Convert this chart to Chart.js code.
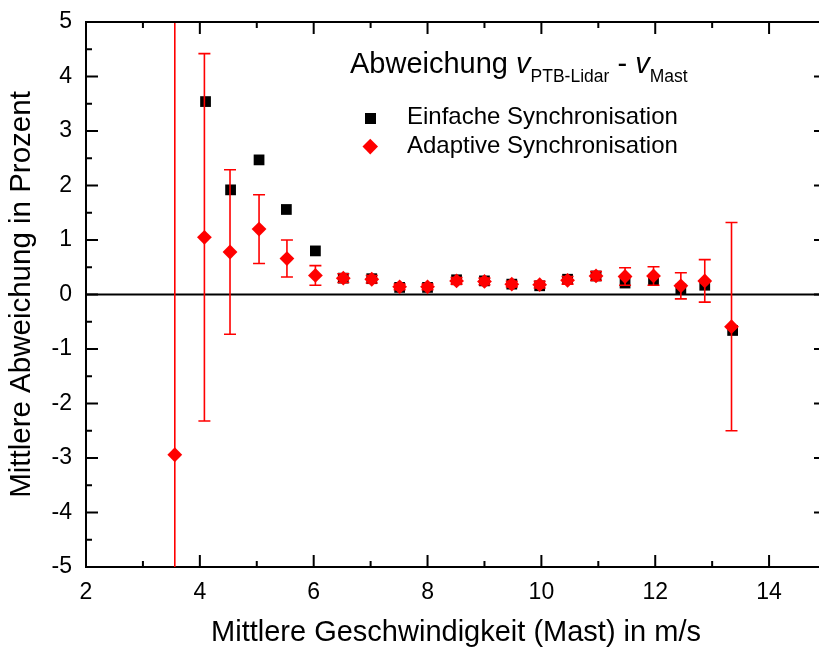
<!DOCTYPE html>
<html><head><meta charset="utf-8">
<script src="https://cdn.jsdelivr.net/npm/chart.js@4"></script>
<style>
html,body{margin:0;padding:0;background:#fff;overflow:hidden;}
#wrap{position:relative;width:840px;height:647px;}
#c{position:absolute;left:0;top:0;width:840px;height:647px;}
.t{position:absolute;font-family:"Liberation Sans",Arial,sans-serif;white-space:nowrap;line-height:1;color:#000;}
.sub{font-size:17.5px;position:relative;top:9px;}
.mk{position:absolute;}
</style></head><body>
<div id="wrap">
<canvas id="c" width="840" height="647"></canvas>
<div class="t" style="left:350px;top:49px;font-size:29px;">Abweichung <i>v</i><span class="sub">PTB-Lidar</span> - <i>v</i><span class="sub">Mast</span></div>
<div class="mk" style="left:365px;top:113px;width:11px;height:11px;background:#000;"></div>
<div class="mk" style="left:365px;top:141px;width:10.5px;height:10.5px;background:#f00;transform:rotate(45deg);"></div>
<div class="t" style="left:407px;top:104px;font-size:24px;">Einfache Synchronisation</div>
<div class="t" style="left:407px;top:133px;font-size:24px;">Adaptive Synchronisation</div>
</div>
<script>
// ---- data ----
const speedAdaptive = [3.56, 4.08, 4.53, 5.04, 5.53, 6.03, 6.52, 7.02, 7.51, 8.00, 8.51, 9.00, 9.48, 9.97, 10.46, 10.96, 11.47, 11.97, 12.45, 12.87, 13.34];
const devAdaptive   = [-2.94, 1.05, 0.78, 1.20, 0.66, 0.35, 0.30, 0.28, 0.14, 0.14, 0.25, 0.24, 0.19, 0.18, 0.26, 0.34, 0.33, 0.34, 0.16, 0.25, -0.59];
const errAdaptive   = [8.5, 3.37, 1.51, 0.63, 0.34, 0.18, 0.08, 0.07, 0.05, 0.05, 0.06, 0.06, 0.05, 0.06, 0.07, 0.08, 0.16, 0.17, 0.24, 0.39, 1.91];
const speedSimple   = [4.10, 4.54, 5.04, 5.52, 6.03, 6.52, 7.02, 7.51, 8.00, 8.51, 9.00, 9.48, 9.97, 10.46, 10.96, 11.47, 11.97, 12.45, 12.87, 13.36];
const devSimple     = [3.54, 1.92, 2.47, 1.56, 0.80, 0.30, 0.29, 0.13, 0.13, 0.27, 0.25, 0.19, 0.16, 0.28, 0.34, 0.21, 0.27, 0.10, 0.17, -0.66];
const xTickValues = [2, 4, 6, 8, 10, 12, 14];
const xMinorValues = [3, 5, 7, 9, 11, 13];
const yTickValues = [-5, -4, -3, -2, -1, 0, 1, 2, 3, 4, 5];
const yMinorValues = [-4.5, -3.5, -2.5, -1.5, -0.5, 0.5, 1.5, 2.5, 3.5, 4.5];
const xTitle = 'Mittlere Geschwindigkeit (Mast) in m/s';
const yTitle = 'Mittlere Abweichung in Prozent';

const FONT = '"Liberation Sans", Arial, sans-serif';

const errorBars = {
  id: 'errorBars',
  beforeDatasetDraw(chart, args) {
    if (args.index !== 1) return;
    const {ctx, chartArea: a, scales: {x, y}} = chart;
    ctx.save();
    ctx.beginPath();
    ctx.rect(a.left, a.top, a.right - a.left, a.bottom - a.top);
    ctx.clip();
    ctx.strokeStyle = '#ff0000';
    ctx.lineWidth = 1.6;
    speedAdaptive.forEach((sx, i) => {
      const px = x.getPixelForValue(sx);
      const top = y.getPixelForValue(devAdaptive[i] + errAdaptive[i]);
      const bot = y.getPixelForValue(devAdaptive[i] - errAdaptive[i]);
      ctx.beginPath();
      ctx.moveTo(px, top); ctx.lineTo(px, bot);
      ctx.moveTo(px - 6, top); ctx.lineTo(px + 6, top);
      ctx.moveTo(px - 6, bot); ctx.lineTo(px + 6, bot);
      ctx.stroke();
    });
    ctx.restore();
  }
};

const frame = {
  id: 'frame',
  beforeDatasetsDraw(chart) {
    const {ctx, chartArea: a, scales: {y}} = chart;
    ctx.save();
    ctx.strokeStyle = '#000';
    ctx.lineWidth = 2.2;
    const y0 = y.getPixelForValue(0);
    ctx.beginPath(); ctx.moveTo(a.left, y0); ctx.lineTo(a.right, y0); ctx.stroke();
    ctx.restore();
  },
  afterDraw(chart) {
    const {ctx, chartArea: a, scales: {x, y}} = chart;
    ctx.save();
    ctx.strokeStyle = '#000';
    ctx.lineWidth = 2;
    ctx.beginPath();
    ctx.moveTo(a.left, a.top); ctx.lineTo(a.right, a.top);
    ctx.moveTo(a.right, a.top); ctx.lineTo(a.right, a.bottom);
    ctx.stroke();
    const tick = (vals, len) => {
      ctx.beginPath();
      vals.forEach(v => {
        const px = x.getPixelForValue(v);
        ctx.moveTo(px, a.bottom); ctx.lineTo(px, a.bottom - len);
        ctx.moveTo(px, a.top); ctx.lineTo(px, a.top + len);
      });
      ctx.stroke();
    };
    const ytick = (vals, len) => {
      ctx.beginPath();
      vals.forEach(v => {
        const py = y.getPixelForValue(v);
        ctx.moveTo(a.left, py); ctx.lineTo(a.left + len, py);
        ctx.moveTo(a.right, py); ctx.lineTo(a.right - len, py);
      });
      ctx.stroke();
    };
    tick(xTickValues, 12); tick(xMinorValues, 6);
    ytick(yTickValues, 12); ytick(yMinorValues, 6);
    ctx.restore();
  }
};

new Chart(document.getElementById('c'), {
  type: 'scatter',
  data: {
    datasets: [
      {
        label: 'Einfache Synchronisation',
        data: speedSimple.map((v, i) => ({x: v, y: devSimple[i]})),
        pointStyle: 'rect', pointRadius: 7.6, pointHoverRadius: 7.6,
        backgroundColor: '#000', borderColor: '#000', borderWidth: 0, order: 2
      },
      {
        label: 'Adaptive Synchronisation',
        data: speedAdaptive.map((v, i) => ({x: v, y: devAdaptive[i]})),
        pointStyle: 'rectRot', pointRadius: 7.4, pointHoverRadius: 7.4,
        backgroundColor: '#ff0000', borderColor: '#ff0000', borderWidth: 0, order: 1
      }
    ]
  },
  options: {
    responsive: false, animation: false, devicePixelRatio: 1,
    layout: {padding: {top: 22, right: 14, left: 0, bottom: 0}},
    plugins: {legend: {display: false}, tooltip: {enabled: false}},
    scales: {
      x: {
        type: 'linear', min: 2, max: 15,
        afterFit(s) { s.height = 80; s.paddingLeft = 0; s.paddingRight = 0; },
        afterBuildTicks(s) { s.ticks = xTickValues.map(v => ({value: v})); },
        grid: {display: false, drawTicks: false},
        border: {display: true, color: '#000', width: 2},
        ticks: {color: '#000', font: {family: FONT, size: 23}, padding: 12, maxRotation: 0, autoSkip: false},
        title: {display: true, text: xTitle, color: '#000', font: {family: FONT, size: 29, lineHeight: 1}, padding: {top: 0, bottom: 0}}
      },
      y: {
        type: 'linear', min: -5, max: 5,
        afterFit(s) { s.width = 86; s.paddingTop = 0; s.paddingBottom = 0; },
        afterBuildTicks(s) { s.ticks = yTickValues.map(v => ({value: v})); },
        grid: {display: false, drawTicks: false},
        border: {display: true, color: '#000', width: 2},
        ticks: {color: '#000', font: {family: FONT, size: 23}, padding: 14, autoSkip: false},
        title: {display: true, text: yTitle, color: '#000', font: {family: FONT, size: 29.5, lineHeight: 1}, padding: {top: 7, bottom: 0}}
      }
    }
  },
  plugins: [errorBars, frame]
});
</script>
</body></html>
